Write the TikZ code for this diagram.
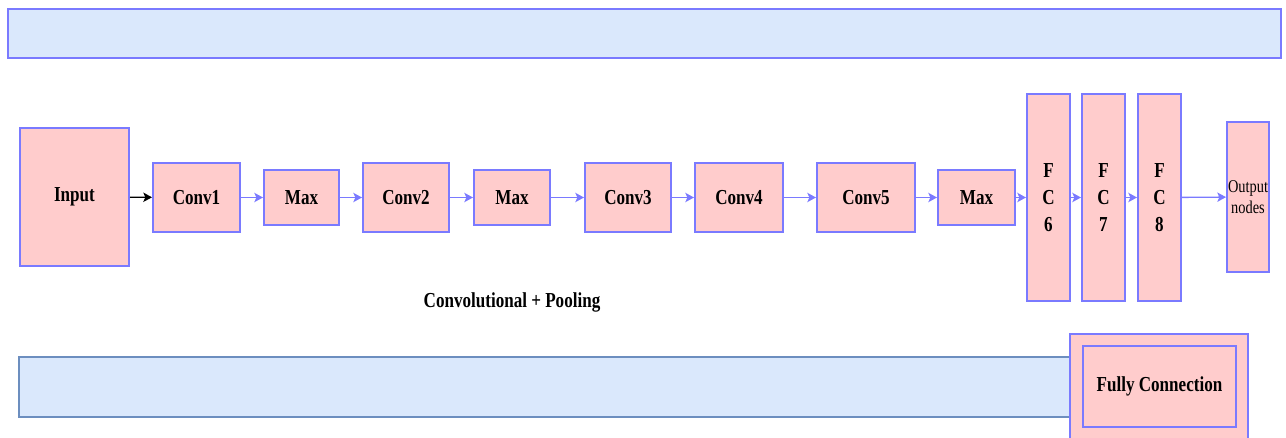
\documentclass[tikz,border=0pt]{standalone}
\usepackage{fontspec}
\setmainfont{Liberation Serif}[FakeStretch=0.8]
\usetikzlibrary{arrows.meta}

\definecolor{boxfill}{RGB}{255,204,204}
\definecolor{boxline}{RGB}{122,122,255}
\definecolor{bandfill}{RGB}{218,232,252}
\definecolor{bandline}{RGB}{108,142,191}

\tikzset{every picture/.style={line width=0.75pt}}
\tikzset{
  layer/.style 2 args={draw=boxline, fill=boxfill, line width=1.5pt, inner sep=0pt,
    minimum width=#1*0.75pt, minimum height=#2*0.75pt, font=\bfseries\fontsize{16}{19}\selectfont},
  flow/.style={draw=boxline, line width=1pt, -{Stealth[length=6.5pt,width=7pt,inset=1.5pt]}},
}

\begin{document}
\begin{tikzpicture}[x=0.75pt,y=0.75pt,yscale=-1,xscale=1]
\useasboundingbox (0,0) rectangle (1286,438);

%Top band
\draw [draw=boxline, fill=bandfill, line width=1.5pt] (8,9) rectangle (1281,58) ;
%Bottom band
\draw [draw=bandline, fill=bandfill, line width=1.5pt] (19,357) rectangle (1080,417) ;
%Fully connection box
\draw [draw=boxline, fill=boxfill, line width=1.5pt] (1070,334) rectangle (1248,450) ;
\node (fcbox) at (1159.5,386.5) [layer={153}{81}] {Fully Connection};

% Layers
\node (input) at (74.5,197) [layer={109}{138}] {Input};
\node (conv1) at (196.5,197.5) [layer={87}{69}] {Conv1};
\node (max1) at (301.5,197.5) [layer={75}{55}] {Max};
\node (conv2) at (406,197.5) [layer={86}{69}] {Conv2};
\node (max2) at (512,197.5) [layer={76}{55}] {Max};
\node (conv3) at (628,197.5) [layer={86}{69}] {Conv3};
\node (conv4) at (739,197.5) [layer={88}{69}] {Conv4};
\node (conv5) at (866,197.5) [layer={98}{69}] {Conv5};
\node (max3) at (976.5,197.5) [layer={77}{55}] {Max};
\node (fc6) at (1048.5,197.5) [layer={43}{207}, align=center] {F\\[1pt]C\\[1pt]6};
\node (fc7) at (1103.5,197.5) [layer={43}{207}, align=center] {F\\[1pt]C\\[1pt]7};
\node (fc8) at (1159.5,197.5) [layer={43}{207}, align=center] {F\\[1pt]C\\[1pt]8};
\node (output) at (1248,197) [layer={42}{150}, align=center, font=\fontsize{13.5}{16}\selectfont] {Output\\nodes};

% Text Node
\node (convpool) at (512,302) [font=\bfseries\fontsize{16}{19}\selectfont] {Convolutional + Pooling};

% Connectors
\draw [line width=1pt, -{Stealth[length=6.5pt,width=7pt,inset=1.5pt]}] (input) -- (conv1) ;
\draw [flow] (conv1) -- (max1) ;
\draw [flow] (max1) -- (conv2) ;
\draw [flow] (conv2) -- (max2) ;
\draw [flow] (max2) -- (conv3) ;
\draw [flow] (conv3) -- (conv4) ;
\draw [flow] (conv4) -- (conv5) ;
\draw [flow] (conv5) -- (max3) ;
\draw [flow] (max3) -- (fc6) ;
\draw [flow] (fc6) -- (fc7) ;
\draw [flow] (fc7) -- (fc8) ;
\draw [flow] (fc8) -- (output) ;

\end{tikzpicture}
\end{document}
